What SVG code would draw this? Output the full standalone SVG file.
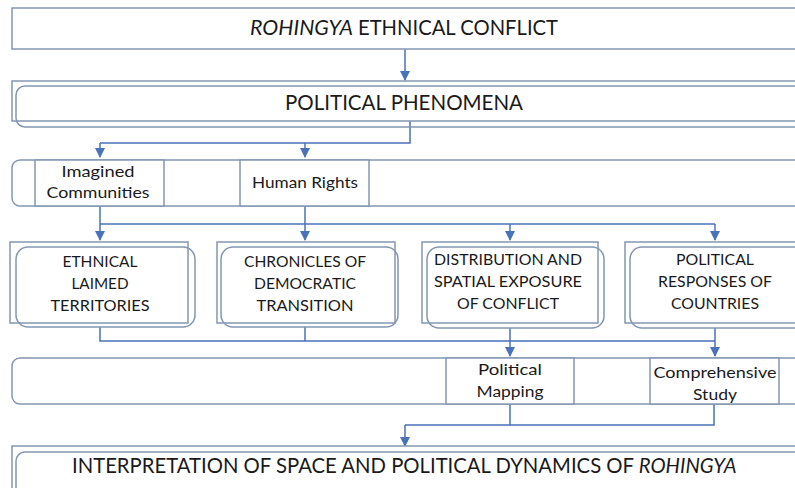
<svg xmlns="http://www.w3.org/2000/svg" width="795" height="488" viewBox="0 0 795 488">
<defs>
<marker id="ah" viewBox="0 0 10 10" refX="9" refY="5" markerWidth="10" markerHeight="10" markerUnits="userSpaceOnUse" orient="auto">
<path d="M0,0 L10,5 L0,10 z" fill="#4a72b8"/>
</marker>
<style>
.box{fill:#fff;stroke:#8497b0;stroke-width:1.5}
.in{fill:none;stroke:#8497b0;stroke-width:1.5}
.ln{fill:none;stroke:#4a72b8;stroke-width:1.5}
.ar{fill:none;stroke:#4a72b8;stroke-width:1.5;marker-end:url(#ah)}
text{font-family:Lato,"Open Sans","Liberation Sans",sans-serif;fill:#1a1a1a;text-anchor:middle}
.big{font-size:21px}
.sm{font-size:16px}
.st{text-anchor:start}
.it{font-style:italic}
</style>
</defs>
<rect width="795" height="488" fill="#fff"/>

<g id="connectors">
<path class="ar" d="M405,49 V80"/>
<path class="ln" d="M410,121 V143 H100"/>
<path class="ar" d="M100,143 V157"/>
<path class="ar" d="M305,143 V157"/>
<path class="ar" d="M100,206 V240"/>
<path class="ar" d="M305,206 V240"/>
<path class="ln" d="M100,224 H715"/>
<path class="ar" d="M510,224 V240"/>
<path class="ar" d="M715,224 V240"/>
<path class="ln" d="M100,327 V341 H715"/>
<path class="ln" d="M305,327 V341"/>
<path class="ar" d="M510,328 V356"/>
<path class="ar" d="M715,328 V356"/>
<path class="ln" d="M510,404 V425 H405"/>
<path class="ln" d="M714,404 V425 H510"/>
<path class="ar" d="M405,425 V446"/>
</g>

<g id="n-conflict">
<rect class="box" x="12" y="8" width="790" height="41"/>
<text class="big it st" x="250" y="35" textLength="103" lengthAdjust="spacingAndGlyphs">ROHINGYA</text>
<text class="big st" x="358" y="35" textLength="200" lengthAdjust="spacingAndGlyphs">ETHNICAL CONFLICT</text>
</g>

<g id="n-phenomena">
<rect class="box" x="12" y="81" width="790" height="40"/>
<rect class="in" x="16" y="86" width="790" height="41" rx="9"/>
<text class="big" x="404" y="110" textLength="238" lengthAdjust="spacingAndGlyphs">POLITICAL PHENOMENA</text>
</g>

<g id="n-concepts">
<rect class="box" x="12" y="160" width="795" height="46" rx="8"/>
</g>
<g id="n-imagined">
<rect class="box" x="35" y="160" width="129" height="46"/>
<text class="sm" x="98" y="177" textLength="73" lengthAdjust="spacingAndGlyphs">Imagined</text>
<text class="sm" x="98" y="198" textLength="103" lengthAdjust="spacingAndGlyphs">Communities</text>
</g>
<g id="n-human">
<rect class="box" x="240" y="160" width="129" height="46"/>
<text class="sm" x="305" y="188" textLength="106" lengthAdjust="spacingAndGlyphs">Human Rights</text>
</g>

<g id="n-ethnical">
<rect class="box" x="10" y="242" width="178" height="81"/>
<rect class="in" x="16" y="247" width="179" height="80" rx="12"/>
<text class="sm" x="100" y="267" textLength="75" lengthAdjust="spacingAndGlyphs">ETHNICAL</text>
<text class="sm" x="100" y="289" textLength="57" lengthAdjust="spacingAndGlyphs">LAIMED</text>
<text class="sm" x="100" y="311" textLength="99" lengthAdjust="spacingAndGlyphs">TERRITORIES</text>
</g>

<g id="n-chronicles">
<rect class="box" x="217" y="242" width="178" height="81"/>
<rect class="in" x="221" y="247" width="177" height="80" rx="12"/>
<text class="sm" x="305" y="267" textLength="122" lengthAdjust="spacingAndGlyphs">CHRONICLES OF</text>
<text class="sm" x="305" y="289" textLength="102" lengthAdjust="spacingAndGlyphs">DEMOCRATIC</text>
<text class="sm" x="305" y="311" textLength="97" lengthAdjust="spacingAndGlyphs">TRANSITION</text>
</g>

<g id="n-distribution">
<rect class="box" x="422" y="242" width="176" height="81"/>
<rect class="in" x="427" y="247" width="177" height="81" rx="12"/>
<text class="sm" x="508" y="265" textLength="148" lengthAdjust="spacingAndGlyphs">DISTRIBUTION AND</text>
<text class="sm" x="508" y="287" textLength="148" lengthAdjust="spacingAndGlyphs">SPATIAL EXPOSURE</text>
<text class="sm" x="508" y="309" textLength="102" lengthAdjust="spacingAndGlyphs">OF CONFLICT</text>
</g>

<g id="n-responses">
<rect class="box" x="625" y="242" width="180" height="81"/>
<rect class="in" x="630" y="247" width="180" height="81" rx="12"/>
<text class="sm" x="715" y="265" textLength="78" lengthAdjust="spacingAndGlyphs">POLITICAL</text>
<text class="sm" x="715" y="287" textLength="114" lengthAdjust="spacingAndGlyphs">RESPONSES OF</text>
<text class="sm" x="715" y="309" textLength="88" lengthAdjust="spacingAndGlyphs">COUNTRIES</text>
</g>

<g id="n-methods">
<rect class="box" x="12" y="358" width="795" height="46" rx="8"/>
</g>
<g id="n-mapping">
<rect class="box" x="446" y="358" width="128" height="46"/>
<text class="sm" x="510" y="375" textLength="64" lengthAdjust="spacingAndGlyphs">Political</text>
<text class="sm" x="510" y="397" textLength="67" lengthAdjust="spacingAndGlyphs">Mapping</text>
</g>
<g id="n-study">
<rect class="box" x="650" y="358" width="129" height="46"/>
<text class="sm" x="715" y="378" textLength="123" lengthAdjust="spacingAndGlyphs">Comprehensive</text>
<text class="sm" x="715" y="400" textLength="44" lengthAdjust="spacingAndGlyphs">Study</text>
</g>

<g id="n-interpretation">
<rect class="box" x="12" y="446" width="790" height="50"/>
<rect class="in" x="16" y="452" width="790" height="50" rx="9"/>
<text class="st" x="72" y="473" style="font-size:20.3px">INTERPRETATION OF SPACE AND POLITICAL DYNAMICS OF <tspan class="it">ROHINGYA</tspan></text>
</g>
</svg>
